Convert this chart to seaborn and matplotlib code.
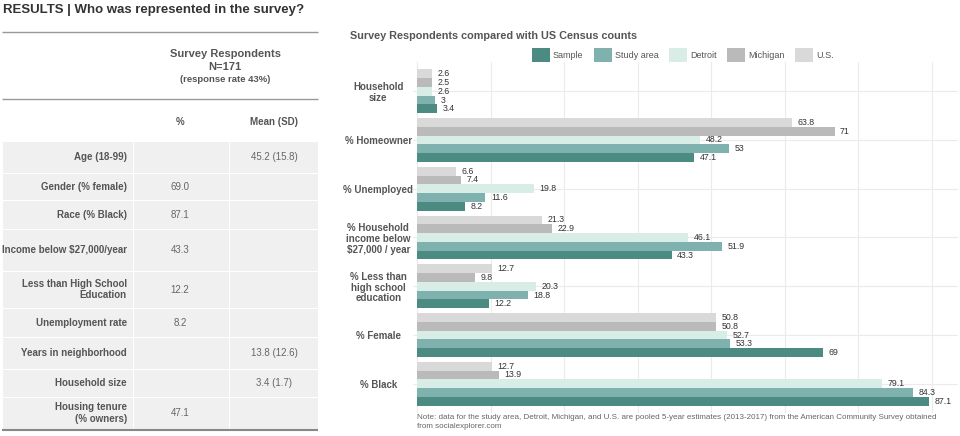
import numpy as np
import pandas as pd
import matplotlib
matplotlib.use("Agg")
import matplotlib.pyplot as plt
import matplotlib.patches as mpatches
import seaborn as sns

# --- data ---
CATEGORIES = [
    "Household\nsize",
    "% Homeowner",
    "% Unemployed",
    "% Household\nincome below\n\\$27,000 / year",
    "% Less than\nhigh school\neducation",
    "% Female",
    "% Black",
]
SAMPLE = [3.4, 47.1, 8.2, 43.3, 12.2, 69, 87.1]
STUDY_AREA = [3, 53, 11.6, 51.9, 18.8, 53.3, 84.3]
DETROIT = [2.6, 48.2, 19.8, 46.1, 20.3, 52.7, 79.1]
MICHIGAN = [2.5, 71, 7.4, 22.9, 9.8, 50.8, 13.9]
US = [2.6, 63.8, 6.6, 21.3, 12.7, 50.8, 12.7]

GROUPS = ["Sample", "Study area", "Detroit", "Michigan", "U.S."]
COLORS = {
    "Sample": "#4b8b82",
    "Study area": "#7fb2ae",
    "Detroit": "#d8ede5",
    "Michigan": "#bababa",
    "U.S.": "#d9d9d9",
}

ROW_LABELS = [
    "Age (18-99)",
    "Gender (% female)",
    "Race (% Black)",
    "Income below \\$27,000/year",
    "Less than High School\nEducation",
    "Unemployment rate",
    "Years in neighborhood",
    "Household size",
    "Housing tenure\n(% owners)",
]
PCT_COL = ["", "69.0", "87.1", "43.3", "12.2", "8.2", "", "", "47.1"]
MEAN_COL = ["45.2 (15.8)", "", "", "", "", "", "13.8 (12.6)", "3.4 (1.7)", ""]

NOTE = ("Note: data for the study area, Detroit, Michigan, and U.S. are pooled 5-year estimates "
        "(2013-2017) from the American Community Survey obtained\nfrom socialexplorer.com")

# long form table for seaborn
df = pd.DataFrame({
    "category": CATEGORIES * 5,
    "group": sum([[g] * len(CATEGORIES) for g in GROUPS], []),
    "value": SAMPLE + STUDY_AREA + DETROIT + MICHIGAN + US,
})

sns.set_theme(style="white")
plt.rcParams["font.family"] = ["Liberation Sans", "DejaVu Sans"]

W, H = 960, 436
fig = plt.figure(figsize=(W / 100, H / 100), dpi=100)

# --- left table, drawn in pixel coordinates ---
tab = fig.add_axes([0, 0, 1, 1])
tab.set_xlim(0, W)
tab.set_ylim(H, 0)
tab.axis("off")

tab.text(3, 10, "RESULTS | Who was represented in the survey?", fontsize=9.5,
         fontweight="bold", color="#333333", va="center", ha="left")

x0, x1, x2, x3 = 2, 133, 229, 318
row_edges = [141, 173, 200, 229, 271, 308, 337, 369, 397, 429]

for i in range(len(ROW_LABELS)):
    top, bot = row_edges[i], row_edges[i + 1]
    for a, b in [(x0, x1), (x1, x2), (x2, x3)]:
        tab.add_patch(mpatches.Rectangle((a + 0.5, top + 0.5), b - a - 1, bot - top - 1,
                                         facecolor="#f0f0f0", edgecolor="none"))
    yc = (top + bot) / 2
    tab.text(127, yc, ROW_LABELS[i], fontsize=7, fontweight="bold", color="#555555",
             ha="right", va="center", linespacing=1.15, multialignment="right")
    tab.text(180, yc, PCT_COL[i], fontsize=7, color="#666666", ha="center", va="center")
    tab.text(274, yc, MEAN_COL[i], fontsize=7, color="#666666", ha="center", va="center")

tab.text(225, 54, "Survey Respondents", fontsize=8, fontweight="bold", color="#555555",
         ha="center", va="center")
tab.text(225, 67, "N=171", fontsize=8, fontweight="bold", color="#555555",
         ha="center", va="center")
tab.text(225, 80, "(response rate 43%)", fontsize=6.8, fontweight="bold", color="#555555",
         ha="center", va="center")
tab.text(180, 122, "%", fontsize=7, fontweight="bold", color="#555555", ha="center", va="center")
tab.text(274, 122, "Mean (SD)", fontsize=7, fontweight="bold", color="#555555",
         ha="center", va="center")

for y, c, lw in [(32, "#999999", 1.0), (99, "#999999", 1.0), (429.5, "#888888", 1.5)]:
    tab.plot([x0, x3], [y, y], color=c, lw=lw, solid_capstyle="butt")

# --- right chart ---
fig.text(350 / W, 1 - 36 / H, "Survey Respondents compared with US Census counts",
         fontsize=7.8, fontweight="bold", color="#555555", ha="left", va="center")

ax = fig.add_axes([413 / W, 1 - 413 / H, 545 / W, 351 / H])
hue_order = GROUPS[::-1]
sns.barplot(data=df, y="category", x="value", hue="group", hue_order=hue_order,
            order=CATEGORIES, palette=COLORS, orient="h", width=0.9, ax=ax,
            saturation=1, legend=False, linewidth=0)

for cont in ax.containers:
    ax.bar_label(cont, labels=[f"{v:g}" for v in cont.datavalues], padding=4,
                 fontsize=6.3, color="#333333")

ax.set_xlim(-0.7, 92)
ax.set_ylim(len(CATEGORIES) - 0.4, -0.6)
ax.set_xticks(np.arange(0, 92, 12.5))
ax.set_xticklabels([])
ax.set_xlabel("")
ax.set_ylabel("")
ax.grid(True, axis="both", color="#ebebeb", lw=0.8)
ax.set_axisbelow(True)
for s in ax.spines.values():
    s.set_visible(False)
ax.tick_params(axis="both", length=0)
ax.tick_params(axis="y", pad=25)
for lab in ax.get_yticklabels():
    lab.set_ha("center")
    lab.set_fontweight("bold")
    lab.set_fontsize(7)
    lab.set_color("#555555")
    lab.set_linespacing(1.1)

handles = [mpatches.Patch(facecolor=COLORS[g], edgecolor="none", label=g) for g in GROUPS]
ax.legend(handles=handles, loc="center", bbox_to_anchor=(0.495, 1.0 + 7 / 351), ncol=5,
          frameon=False, fontsize=6.5, handlelength=2.0, handleheight=1.9,
          columnspacing=1.2, handletextpad=0.3, labelcolor="#555555",
          borderpad=0, borderaxespad=0)

fig.text(417 / W, 1 - 422 / H, NOTE, fontsize=5.8, color="#666666", ha="left", va="center",
         linespacing=1.3)

fig.savefig("out.png", dpi=100)
plt.close(fig)
